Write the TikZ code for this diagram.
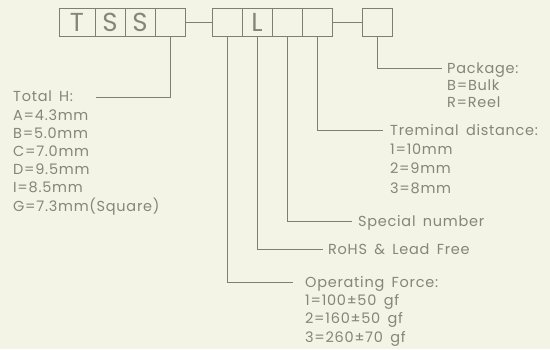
\documentclass[tikz,border=0pt]{standalone}
\usepackage{fontspec}
\setmainfont{Poppins}[WordSpace=1.6, LetterSpace=5]
\usetikzlibrary{positioning, calc}
\definecolor{cadbg}{HTML}{F3F4E5}
\definecolor{cadline}{HTML}{7E7E74}
\definecolor{cadtext}{HTML}{85857A}

\begin{document}
\begin{tikzpicture}[
  x=1pt, y=-1pt,
  cell/.style={
    rectangle, draw=cadline, line width=0.9pt, outer sep=0pt,
    minimum width=30pt, minimum height=28pt, inner sep=0pt,
    font=\fontsize{26}{26}\selectfont, text=cadtext
  },
  lead/.style={draw=cadline, line width=0.9pt},
  note/.style={
    font=\fontsize{14.5}{#1}\selectfont, text=cadtext,
    align=left, anchor=base west, inner sep=0pt
  },
  note/.default=18,
]

% Canvas
\fill[cadbg] (0,0) rectangle (550,349);
\useasboundingbox (0,0) rectangle (550,349);

% Series code
\node[cell, minimum width=36pt] (c1) at (77,22) {T};
\node[cell, right=0pt of c1] (c2) {S};
\node[cell, right=0pt of c2] (c3) {S};
\node[cell, right=0pt of c3] (c4) {};

% Option code
\node[cell] (c5) at (227,22) {};
\node[cell, right=0pt of c5] (c6) {L};
\node[cell, right=0pt of c6] (c7) {};
\node[cell, right=0pt of c7] (c8) {};

% Package code
\node[cell] (c9) at (377,22) {};

% Dashes
\draw[lead] (c4) -- (c5);
\draw[lead] (c8) -- (c9);

% Labels (placed by the baseline of their last line)
\node[note=18.2] (totalh) at (13,211) {Total H:\\ A=4.3mm\\ B=5.0mm\\ C=7.0mm\\
  D=9.5mm\\ I=8.5mm\\ G=7.3mm(Square)};
\node[note=17] (pkg) at (447,107) {Package:\\ B=Bulk\\ R=Reel};
\node[note=19.3] (term) at (390,193) {Treminal distance:\\ 1=10mm\\ 2=9mm\\ 3=8mm};
\node[note] (spec) at (358,226) {Special number};
\node[note] (rohs) at (328,254) {RoHS \& Lead Free};
\node[note=18.3] (force) at (305,342) {Operating Force:\\ 1=100±50 gf\\
  2=160±50 gf\\ 3=260±70 gf};

% Leader ends
\coordinate (totalh-end) at (96,97);
\coordinate (pkg-end) at (442,68);
\coordinate (term-end) at (383,130);
\coordinate (spec-end) at (352,221);
\coordinate (rohs-end) at (323,249);
\coordinate (force-end) at (293,282);

% Leaders
\draw[lead] (c4.south) |- (totalh-end);
\draw[lead] (c9.south) |- (pkg-end);
\draw[lead] (c8.south) |- (term-end);
\draw[lead] (c7.south) |- (spec-end);
\draw[lead] (c6.south) |- (rohs-end);
\draw[lead] (c5.south) |- (force-end);

\end{tikzpicture}
\end{document}
